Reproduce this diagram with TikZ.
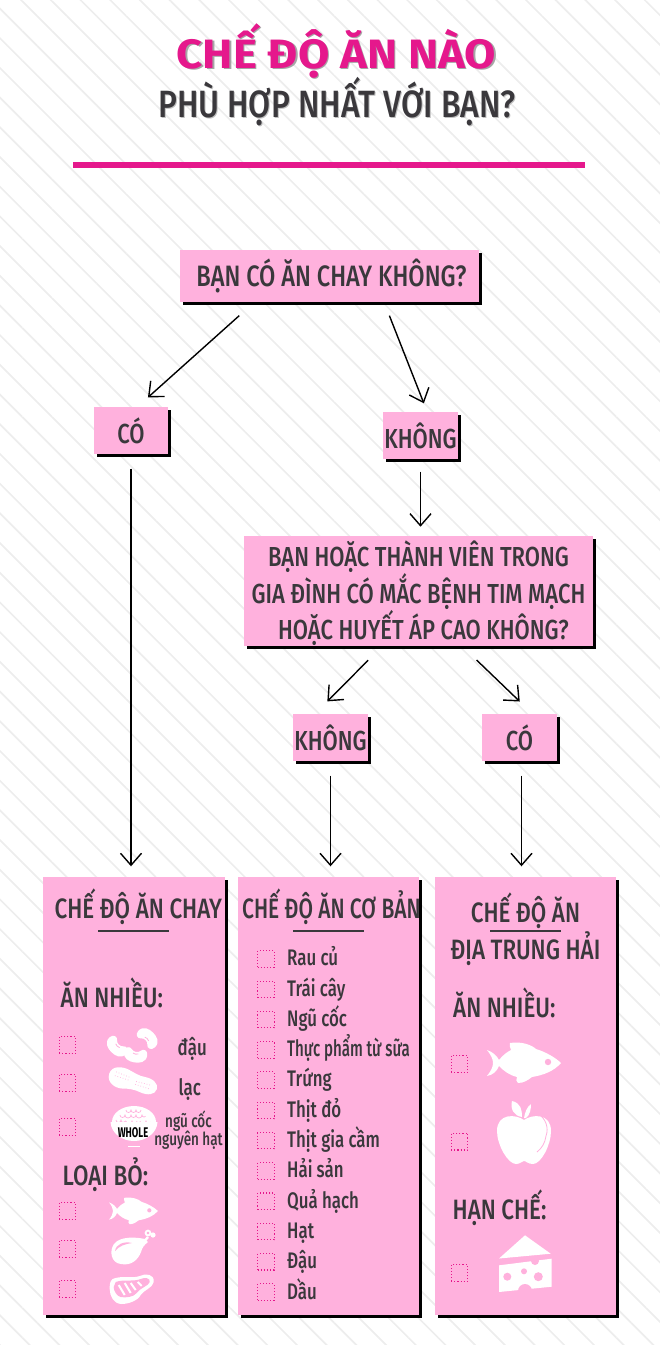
\documentclass[tikz,border=0pt]{standalone}
\usepackage{fontspec}
\usepackage{tikz}
\usetikzlibrary{arrows.meta,shadows,patterns.meta}
\setmainfont{Fira Sans Medium}[FakeStretch=0.75,BoldFont={Fira Sans Bold}]
\newfontfamily\headfont{Fira Sans Medium}[FakeStretch=0.8,BoldFont={Fira Sans Bold}]
\newfontfamily\subfont{Fira Sans Medium}[FakeStretch=0.84]
\newfontfamily\tightfont{Fira Sans Medium}[FakeStretch=0.67,BoldFont={Fira Sans Bold}]
\newfontfamily\titlefont{Fira Sans Bold}[FakeStretch=1.11]

\definecolor{boxpink}{HTML}{FFB1DD}
\definecolor{hotpink}{HTML}{E5188C}
\definecolor{inkgrey}{HTML}{3A383C}
\definecolor{stripegrey}{HTML}{EDEDED}

\tikzset{
    qbox/.style={fill=boxpink,text=inkgrey,inner sep=0pt,align=center,
        font=\headfont\fontsize{27.5}{36}\selectfont,
        drop shadow={shadow xshift=3pt,shadow yshift=-3pt,fill=black,opacity=1}},
    head/.style={text=inkgrey,inner sep=0pt,anchor=base west,font=\headfont\fontsize{28}{34}\selectfont},
    item/.style={text=inkgrey,inner sep=0pt,anchor=base west,font=\fontsize{22.5}{26}\selectfont},
    tick/.style={draw=hotpink,dotted,line width=1.1pt,minimum size=16.5pt,inner sep=0pt},
    bar/.style={minimum width=71pt,minimum height=1.2pt,inner sep=0pt,fill=inkgrey},
    icon/.style={fill=white,draw=none},
    fishicon/.pic={
        \path[icon] (-37,-13) .. controls (-31,-11) and (-27,-7) .. (-25,-3)
            .. controls (-21,-8) and (-17,-11) .. (-13,-13)
            .. controls (-14,-16) and (-15,-18) .. (-14,-20)
            .. controls (-3,-22) and (8,-18) .. (12,-14)
            .. controls (22,-11) and (32,-5) .. (37,0)
            .. controls (30,8) and (20,12) .. (8,14)
            .. controls (4,17) and (0,20) .. (-6,20)
            .. controls (-8,19) and (-8,16) .. (-7,14)
            .. controls (-15,12) and (-20,8) .. (-25,3)
            .. controls (-27,8) and (-31,12) .. (-37,13)
            .. controls (-33,8) and (-31,4) .. (-31,0)
            .. controls (-31,-4) and (-33,-8) .. cycle;
        \fill[boxpink] (24,-1) circle (3.2);
    },
    beanicon/.pic={
        \path[icon] (-13,0) .. controls (-13,-8) and (-6,-10) .. (0,-10)
            .. controls (6,-10) and (13,-8) .. (13,0)
            .. controls (13,6) and (7,7) .. (5,4)
            .. controls (3,1) and (-3,1) .. (-5,4)
            .. controls (-7,7) and (-13,6) .. cycle;
        \draw[-,boxpink,line width=0.8pt] (-3,0) .. controls (-1,-1) and (1,-1) .. (3,0);
    },
    nuticon/.pic={
        \path[icon] (-25,0) .. controls (-25,-9) and (-15,-11) .. (-8,-10)
            .. controls (-2,-9) and (4,-7) .. (10,-8)
            .. controls (18,-9) and (25,-6) .. (25,0)
            .. controls (25,6) and (18,9) .. (10,8)
            .. controls (4,7) and (-2,8) .. (-8,10)
            .. controls (-15,12) and (-25,9) .. cycle;
        \draw[-,boxpink,dotted,line width=0.7pt] (-19,-4) -- (-4,-3) (3,-1) -- (18,-2)
            (-19,0) -- (-4,0) (3,2) -- (18,2);
    },
    bowlicon/.pic={
        \path[icon] (-22,0) .. controls (-22,-9) and (-12,-16) .. (0,-16)
            .. controls (12,-16) and (22,-9) .. (22,0) -- cycle;
        \draw[-,boxpink,line width=0.7pt] (-18,-2) arc (180:0:2.5) arc (180:20:2.5) (-8,-1) arc (180:0:3) arc (180:0:2.5)
            (6,-1) arc (180:0:3) arc (180:30:2.5)
            (-14,-7) arc (180:0:2.5) arc (180:0:3) arc (180:0:2.5) arc (180:0:3) arc (180:40:2)
            (-8,-12) arc (180:0:2.5) arc (180:0:2.5) arc (180:0:2.5);
        \path[icon] (-23.5,0) -- (23.5,0) .. controls (23,11) and (12,19) .. (0,19)
            .. controls (-12,19) and (-23,11) .. cycle;
        \path[icon] (-6,23.5) rectangle (6,25);
    },
    legicon/.pic={
        \path[icon] (17,-9) .. controls (8,-11) and (-8,-12) .. (-14,-4)
            .. controls (-19,3) and (-17,15) .. (-7,16)
            .. controls (3,18) and (10,12) .. (13,4)
            .. controls (14,0) and (16,-3) .. (20,-6) -- cycle;
        \draw[-,white,line width=2.4pt] (15,-5) -- (20,-11);
        \draw[-,white,line width=1.8pt,fill=boxpink] (20,-15) circle (2.4);
        \path[icon] (25,-13) circle (2.6);
        \path[fill=boxpink] (-13,3) .. controls (-12,-4) and (-4,-7) .. (4,-5)
            .. controls (-3,-4) and (-9,-2) .. cycle;
    },
    meaticon/.pic={
        \path[icon] (-19,-9) .. controls (-10,-13) and (0,-9) .. (8,-12)
            .. controls (14,-15) and (23,-14) .. (22,-6)
            .. controls (21,0) and (12,2) .. (9,7)
            .. controls (6,13) and (-4,16) .. (-10,16)
            .. controls (-18,16) and (-22,8) .. (-22,1)
            .. controls (-22,-3) and (-22,-7) .. cycle;
        \fill[boxpink] (-16,-6) .. controls (-8,-9) and (2,-6) .. (9,-9)
            .. controls (13,-11) and (19,-10) .. (18,-6)
            .. controls (17,-2) and (8,0) .. (5,5)
            .. controls (2,9) and (-6,10) .. (-11,9)
            .. controls (-15,8) and (-18,3) .. (-18,-1) -- cycle;
        \draw[-,white,line width=2pt] (-13,-3) -- (-7,7) (-7,-5) -- (-1,5) (-1,-5) -- (4,2) (6,-6) -- (10,-2);
    },
    appleicon/.pic={
        \path[icon] (0,-13) .. controls (-8,-19) and (-27,-20) .. (-27,-2)
            .. controls (-27,12) and (-16,31) .. (-8,31)
            .. controls (-4,31) and (-2,28) .. (0,28)
            .. controls (2,28) and (4,31) .. (9,31)
            .. controls (17,31) and (27,12) .. (27,-2)
            .. controls (27,-20) and (8,-19) .. cycle;
        \path[icon] (-12,-32) .. controls (-3,-30) and (-2,-23) .. (-2,-16)
            .. controls (-10,-17) and (-14,-24) .. cycle;
        \path[icon] (0,-15) .. controls (1,-21) and (3,-26) .. (7,-29)
            .. controls (7,-24) and (6,-18) .. (2,-15) -- cycle;
        \draw[-,boxpink,line width=0.8pt] (13,-20) .. controls (22,-15) and (25,-5) .. (22,3)
            .. controls (21,10) and (18,15) .. (13,19);
    },
    cheeseicon/.pic={
        \path[icon] (-26,-7.5) -- (0,-30.7) -- (25.7,-12.3) -- cycle;
        \path[icon] (-26,-0.7) -- (26.7,-7.3) -- (26.7,20.7) -- (-26,26) -- cycle;
        \fill[boxpink] (10,-5) circle (4) (-17.7,10.7) circle (4) (-1,5.3) circle (3)
            (13.3,10.7) circle (4.5) (0,25) circle (7);
    },
}

\begin{document}
\begin{tikzpicture}[
                        x=1pt,
                        y=-1pt,
                        ->,
                        >={Straight Barb[length=12pt,width=21pt]},
                        line width=1.4pt,
                        black
                    ]
                    \useasboundingbox (0,0) rectangle (660,1345);
                    \path[pattern={Lines[angle=-45,distance=21pt,line width=1.7pt]},pattern color=stripegrey,-] (0,0) rectangle (660,1345);

                    % heading
                    \node[text=black!35,font=\titlefont\fontsize{41}{50}\selectfont,inner sep=0pt,anchor=base] (titleshade) at (338,69.5) {CHẾ ĐỘ ĂN NÀO};
                    \node[text=hotpink,font=\titlefont\fontsize{41}{50}\selectfont,inner sep=0pt,anchor=base] (title) at (336.5,68) {CHẾ ĐỘ ĂN NÀO};
                    \node[text=black!25,font=\subfont\fontsize{38}{44}\selectfont,inner sep=0pt,anchor=base] (subshade) at (338,118) {PHÙ HỢP NHẤT VỚI BẠN?};
                    \node[text=inkgrey,font=\subfont\fontsize{38}{44}\selectfont,inner sep=0pt,anchor=base] (sub) at (337,117) {PHÙ HỢP NHẤT VỚI BẠN?};
                    \node[fill=hotpink,minimum width=512pt,minimum height=6pt,inner sep=0pt] (rule) at (329,165) {};

                    % questions and answers
                    \node[qbox,minimum width=299pt,minimum height=52pt,font=\headfont\fontsize{29.5}{37}\selectfont] (q) at (329.5,276) {\hspace{4pt}BẠN CÓ ĂN CHAY KHÔNG?};
                    \node[qbox,minimum width=74pt,minimum height=47pt]  (co) at (131,430.5) {CÓ};
                    \node[qbox,minimum width=75pt,minimum height=47pt]  (kh) at (420.5,435.5) {KHÔNG};
                    \node[qbox,minimum width=349pt,minimum height=108pt] (heart) at (418.5,591) {\rule{0pt}{30pt}BẠN HOẶC THÀNH VIÊN TRONG\\GIA ĐÌNH CÓ MẮC BỆNH TIM MẠCH\\\hspace{10pt}HOẶC HUYẾT ÁP CAO KHÔNG?};
                    \node[qbox,minimum width=75pt,minimum height=47pt]  (khb) at (330.5,737.5) {KHÔNG};
                    \node[qbox,minimum width=75pt,minimum height=47pt]  (cob) at (519.5,737.5) {CÓ};

                    % the three diets
                    \node[qbox,minimum width=182pt,minimum height=438pt] (veg)  at (134,1096) {};
                    \node[qbox,minimum width=181pt,minimum height=438pt] (base) at (328.5,1096) {};
                    \node[qbox,minimum width=181pt,minimum height=438pt] (med)  at (525.5,1096) {};

                    \path
                    ([xshift=74.4pt]q.south west) edge [shorten <=19.4pt,shorten >=13.4pt] ([xshift=7pt]co.north)
                    ([xshift=205pt]q.south west)  edge [shorten <=13.9pt,shorten >=8.6pt]  ([xshift=6.5pt]kh.north)
                    (kh.south)                    edge [shorten <=12pt,shorten >=9pt]      (kh.south |- heart.north)
                    (co.south)                    edge [shorten <=14pt,shorten >=10pt]     (co.south |- veg.north)
                    ([xshift=138.7pt]heart.south west) edge [shorten <=19.6pt,shorten >=16.8pt] ([xshift=-15pt]khb.north)
                    ([xshift=219pt]heart.south west)   edge [shorten <=19.8pt,shorten >=17pt]   ([xshift=12.5pt]cob.north)
                    (khb.south)                   edge [shorten <=14pt,shorten >=10pt]     (khb.south |- base.north)
                    ([xshift=2pt]cob.south)       edge [shorten <=14pt,shorten >=10pt]     ([xshift=2pt]cob.south |- med.north) ;

                    % first panel
                    \node[head] (vegtitle) at (54,918) {CHẾ ĐỘ ĂN CHAY};
                    \node[bar] (vegbar) at (133.5,931) {};
                    \node[head] (vegmore) at (60,1007) {ĂN NHIỀU:};
                    \node[tick] (v1) at (67.5,1045) {};
                    \node[tick] (v2) at (67.5,1083) {};
                    \node[tick] (v3) at (67.5,1127) {};
                    \node[item] (bean) at (177,1055) {đậu};
                    \node[item] (nut)  at (178,1095) {lạc};
                    \node[text=inkgrey,inner sep=0pt,align=center,font=\fontsize{18}{18.5}\selectfont] (grain) at (188.5,1130) {ngũ cốc\\nguyên hạt};
                    \pic[rotate=135,scale=0.9] at (117.7,1045.7) {beanicon};
                    \pic[rotate=-45,scale=0.9] at (146.7,1039) {beanicon};
                    \pic[rotate=170,scale=0.9] at (135.7,1053.5) {beanicon};
                    \pic[rotate=-18] at (133,1081.5) {nuticon};
                    \pic at (134,1122) {bowlicon};
                    \node[text=black,inner sep=0pt,font=\tightfont\bfseries\fontsize{14}{14}\selectfont] (whole) at (133,1133) {WHOLE};
                    \node[head] (vegless) at (62,1185) {LOẠI BỎ:};
                    \node[tick] (v4) at (67.5,1211) {};
                    \node[tick] (v5) at (67.5,1249) {};
                    \node[tick] (v6) at (67.5,1289) {};
                    \pic[scale=0.66] at (133.5,1211) {fishicon};
                    \pic at (128,1248) {legicon};
                    \pic at (131.7,1288) {meaticon};

                    % second panel
                    \node[head,font=\fontsize{28}{34}\selectfont] (basetitle) at (241.5,918) {CHẾ ĐỘ ĂN CƠ BẢN};
                    \node[bar] (basebar) at (328.5,931) {};
                    \node[tick] (b1)  at (266,959) {};
                    \node[tick] (b2)  at (266,989.3) {};
                    \node[tick] (b3)  at (266,1019.5) {};
                    \node[tick] (b4)  at (266,1049.8) {};
                    \node[tick] (b5)  at (266,1080.1) {};
                    \node[tick] (b6)  at (266,1110.4) {};
                    \node[tick] (b7)  at (266,1140.6) {};
                    \node[tick] (b8)  at (266,1170.9) {};
                    \node[tick] (b9)  at (266,1201.2) {};
                    \node[tick] (b10) at (266,1231.5) {};
                    \node[tick] (b11) at (266,1261.7) {};
                    \node[tick] (b12) at (266,1292) {};
                    \node[item] (i1)  at (286.5,965.7)  {Rau củ};
                    \node[item] (i2)  at (286.5,996)    {Trái cây};
                    \node[item] (i3)  at (286.5,1026.3) {Ngũ cốc};
                    \node[item,font=\tightfont\fontsize{22.5}{26}\selectfont] (i4) at (286.5,1056.6) {Thực phẩm từ sữa};
                    \node[item] (i5)  at (286.5,1086.9) {Trứng};
                    \node[item] (i6)  at (286.5,1117.2) {Thịt đỏ};
                    \node[item] (i7)  at (286.5,1147.5) {Thịt gia cầm};
                    \node[item] (i8)  at (286.5,1177.8) {Hải sản};
                    \node[item] (i9)  at (286.5,1208.1) {Quả hạch};
                    \node[item] (i10) at (286.5,1238.4) {Hạt};
                    \node[item] (i11) at (286.5,1268.7) {Đậu};
                    \node[item] (i12) at (286.5,1299)   {Dầu};

                    % third panel
                    \node[head,anchor=base] (medtop) at (525.5,922) {CHẾ ĐỘ ĂN};
                    \node[bar] (medbar) at (525.5,931) {};
                    \node[head,anchor=base] (medlow) at (525.5,959) {ĐỊA TRUNG HẢI};
                    \node[head] (medmore) at (452.5,1017) {ĂN NHIỀU:};
                    \node[tick] (m1) at (459.5,1064) {};
                    \node[tick] (m2) at (459.5,1141.7) {};
                    \pic at (524,1063) {fishicon};
                    \pic at (524,1133) {appleicon};
                    \node[head] (medless) at (452,1219) {HẠN CHẾ:};
                    \node[tick] (m3) at (459.5,1273) {};
                    \pic at (525,1266) {cheeseicon};
                \end{tikzpicture}
\end{document}
